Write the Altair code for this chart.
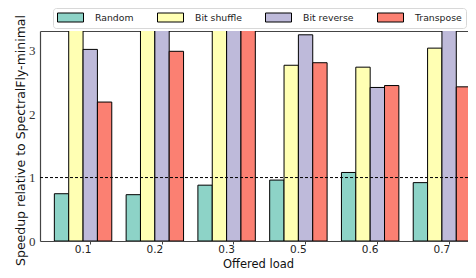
import altair as alt
import pandas as pd

loads = ["0.1", "0.2", "0.3", "0.5", "0.6", "0.7"]
series = ["Random", "Bit shuffle", "Bit reverse", "Transpose"]
random_vals = [0.745, 0.73, 0.88, 0.96, 1.08, 0.92]
bit_shuffle_vals = [3.6, 3.6, 3.6, 2.77, 2.74, 3.04]
bit_reverse_vals = [3.02, 3.6, 3.6, 3.25, 2.42, 3.6]
transpose_vals = [2.19, 2.99, 3.6, 2.81, 2.45, 2.43]
colors = ["#8dd3c7", "#ffffb3", "#bebada", "#fb8072"]
baseline = [1.0]
y_ticks = [0, 1, 2, 3]

rows = []
for s, vals in zip(series, [random_vals, bit_shuffle_vals, bit_reverse_vals, transpose_vals]):
    for l, v in zip(loads, vals):
        rows.append({"load": l, "pattern": s, "speedup": v})
df = pd.DataFrame(rows)

AX = "#444"
x_scale = alt.Scale(range=[0, 445], paddingInner=0.2, paddingOuter=0.2)
off_scale = alt.Scale(paddingInner=0, paddingOuter=0)
y_scale = alt.Scale(domain=[0, 3.31], nice=False)

y_axis = alt.Axis(
    title="Speedup relative to SpectralFly-minimal",
    values=y_ticks,
    format="d",
    grid=False,
    ticks=False,
    domain=True,
    domainColor=AX,
    domainWidth=1.2,
    labelPadding=5,
    labelFont="Liberation Serif",
    labelFontSize=13,
    labelColor="#333",
    titleFont="DejaVu Sans",
    titleFontSize=12.5,
    titleFontWeight="normal",
    titleColor="#111",
    titleX=-16,
    titleY=109,
    titleBaseline="alphabetic",
)

bars = alt.Chart(df).mark_bar(stroke="black", strokeWidth=1, clip=True).encode(
    x=alt.X(
        "load:N",
        sort=loads,
        scale=x_scale,
        axis=alt.Axis(
            title="Offered load",
            labelAngle=0,
            bandPosition=0.625,
            domain=True,
            domainColor=AX,
            domainWidth=1.2,
            tickSize=3,
            tickColor=AX,
            labelPadding=0,
            labelFont="DejaVu Sans",
            labelFontSize=10.5,
            labelColor="#222",
            titleFont="DejaVu Sans",
            titleFontSize=11.5,
            titleFontWeight="normal",
            titleColor="#111",
            titleX=218,
            titleY=26,
            titleBaseline="alphabetic",
        ),
    ),
    xOffset=alt.XOffset("pattern:N", sort=series, scale=off_scale),
    y=alt.Y("speedup:Q", scale=y_scale, axis=y_axis),
    color=alt.Color(
        "pattern:N",
        sort=series,
        scale=alt.Scale(domain=series, range=colors),
        legend=alt.Legend(
            title=None,
            orient="none",
            legendX=13,
            legendY=-23,
            direction="horizontal",
            columns=4,
            symbolType="M-1,-0.9H4.2V0.9H-1Z",
            symbolSize=100,
            symbolStrokeColor="black",
            symbolStrokeWidth=1,
            symbolOpacity=1,
            labelFont="DejaVu Sans",
            labelFontSize=9.3,
            labelColor="#222",
            labelOffset=27,
            columnPadding=21,
            padding=4,
            strokeColor="#d8d8d8",
            fillColor="white",
            cornerRadius=3,
        ),
    ),
)

top_frame = alt.Chart(df).mark_bar(opacity=0).encode(
    x=alt.X(
        "load:N",
        sort=loads,
        scale=x_scale,
        axis=alt.Axis(orient="top", labels=False, ticks=False, domain=True,
                      domainColor=AX, domainWidth=1.2, title=None),
    ),
    xOffset=alt.XOffset("pattern:N", sort=series, scale=off_scale),
    y=alt.Y("speedup:Q", scale=y_scale, axis=y_axis),
)

rule = alt.Chart(pd.DataFrame({"y": baseline})).mark_rule(
    color="black", strokeDash=[3, 2], strokeWidth=1
).encode(y="y:Q")

chart = (
    alt.layer(bars, top_frame, rule)
    .resolve_axis(x="independent")
    .properties(
        width=428,
        height=210,
        autosize=alt.AutoSizeParams(type="none"),
        padding={"left": 32, "top": 23, "right": 0, "bottom": 29},
    )
    .configure_view(stroke=None)
)

chart.save("out.html", embed_options={"renderer": "svg", "actions": False})
